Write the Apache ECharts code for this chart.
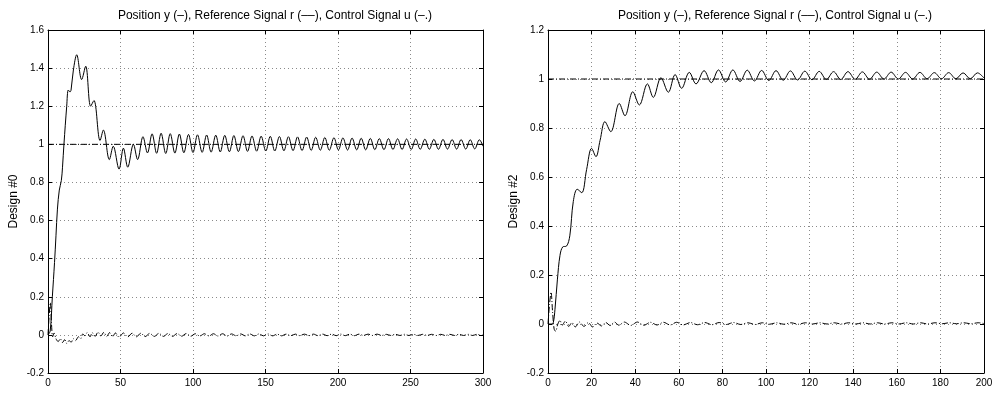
<!DOCTYPE html>
<html>
<head>
<meta charset="utf-8">
<script src="https://cdn.jsdelivr.net/npm/echarts@6/dist/echarts.min.js"></script>
<style>
html,body{margin:0;padding:0;background:#fff;}
#chart{width:998px;height:394px;}
</style>
</head>
<body>
<div id="chart"></div>
<script>
// ---------- data ----------
const titleText = 'Position y (–), Reference Signal r (––), Control Signal u (–.)';
const yLabels = ['Design #0', 'Design #2'];

const xTicks0 = [0, 50, 100, 150, 200, 250, 300];
const yTicks0 = [-0.2, 0, 0.2, 0.4, 0.6, 0.8, 1, 1.2, 1.4, 1.6];
const xTicks2 = [0, 20, 40, 60, 80, 100, 120, 140, 160, 180, 200];
const yTicks2 = [-0.2, 0, 0.2, 0.4, 0.6, 0.8, 1, 1.2];

// Design #0 : position y
const pos0 = [[0,0],[1.5,0.02],[3,0.2],[4.5,0.38],[5.5,0.52],[6.5,0.66],[7.8,0.76],[9.2,0.81],[10,0.88],[11,1.0],[12.9,1.2],[14,1.285],[15.2,1.275],[15.9,1.285],[17.5,1.39],[19.8,1.47],[23.2,1.34],[26,1.41],[29.4,1.2],[31.7,1.23],[35.9,1.02],[38.2,1.075],[42.3,0.92],[45,0.99],[49,0.87],[52,0.98],[55,0.88],[58.9,1.0],[61.8,0.92],
[65.5,1.04],[68.6,0.955],[71.8,1.055],[74.9,0.953],[78.0,1.058],[81.2,0.952],[84.3,1.056],[87.5,0.954],[90.6,1.054],[93.7,0.956],[96.9,1.052],[100.0,0.957],[103.1,1.05],[106.3,0.958],[109.4,1.049],[112.5,0.959],[115.7,1.048],[118.8,0.96],[121.9,1.047],[125.1,0.961],[128.2,1.046],[131.3,0.962],[134.5,1.045],[137.6,0.963],[140.7,1.044],[143.9,0.964],[147.0,1.043],[150.2,0.965],[153.3,1.042],[156.4,0.965],[159.6,1.041],[162.7,0.966],[165.8,1.04],[169.0,0.967],[172.1,1.039],[175.2,0.967],[178.4,1.038],[181.5,0.968],[184.6,1.037],[187.8,0.969],[190.9,1.036],[194.0,0.969],[197.2,1.035],[200.3,0.97],[203.4,1.034],[206.6,0.97],[209.7,1.033],[212.9,0.971],[216.0,1.032],[219.1,0.971],[222.3,1.031],[225.4,0.972],[228.5,1.03],[231.7,0.972],[234.8,1.03],[237.9,0.973],[241.1,1.029],[244.2,0.973],[247.3,1.028],[250.5,0.973],[253.6,1.028],[256.7,0.974],[259.9,1.027],[263.0,0.974],[266.1,1.026],[269.3,0.974],[272.4,1.026],[275.5,0.975],[278.7,1.025],[281.8,0.975],[284.9,1.025],[288.1,0.975],[291.2,1.024],[294.3,0.976],[297.5,1.024],[300,0.99]];

// Design #0 : reference r
const ref0 = [[0,1],[300,1]];

// Design #0 : control u
const ctrl0 = [[0,0],[0.8,0.1],[1.6,0.17],[2.4,0.06],[3.2,-0.01],[4.2,0.01],[5.5,-0.02],[7,-0.035],[8.5,-0.02],[10,-0.04],[11.5,-0.025],[13,-0.045],[14.5,-0.03],[16,-0.038],[17.5,-0.02],[19,-0.03],[21,-0.01],[22.5,-0.02],[24,0.005],[25.5,-0.005],[27,0.012],[29,-0.01],[30.5,0.012],[32.5,-0.008],[34.5,0.015],[36.5,-0.006],[38.5,0.014],[40.5,-0.008],[42.5,0.012],[44.5,-0.01],[46.5,0.01],[49,-0.012],[52,0.01],[55,-0.011],[58,0.009],[61,-0.01],[64,0.009],[67,-0.009],
[70.2,0.008],[73.3,-0.008],[76.5,0.008],[79.6,-0.008],[82.7,0.007],[85.9,-0.008],[89.0,0.007],[92.2,-0.007],[95.3,0.007],[98.4,-0.007],[101.6,0.006],[104.7,-0.006],[107.8,0.006],[111.0,-0.006],[114.1,0.006],[117.2,-0.006],[120.4,0.006],[123.5,-0.006],[126.6,0.005],[129.8,-0.005],[132.9,0.005],[136.1,-0.005],[139.2,0.005],[142.3,-0.005],[145.5,0.005],[148.6,-0.005],[151.7,0.005],[154.9,-0.005],[158.0,0.004],[161.1,-0.005],[164.3,0.004],[167.4,-0.004],[170.6,0.004],[173.7,-0.004],[176.8,0.004],[180.0,-0.004],[183.1,0.004],[186.2,-0.004],[189.4,0.004],[192.5,-0.004],[195.6,0.004],[198.8,-0.004],[201.9,0.004],[205.0,-0.004],[208.2,0.004],[211.3,-0.004],[214.5,0.004],[217.6,-0.003],[220.7,0.004],[223.9,-0.003],[227.0,0.004],[230.1,-0.003],[233.3,0.003],[236.4,-0.003],[239.5,0.003],[242.7,-0.003],[245.8,0.003],[248.9,-0.003],[252.1,0.003],[255.2,-0.003],[258.4,0.003],[261.5,-0.003],[264.6,0.003],[267.8,-0.003],[270.9,0.003],[274.0,-0.003],[277.2,0.003],[280.3,-0.003],[283.4,0.003],[286.6,-0.003],[289.7,0.003],[292.8,-0.003],[296.0,0.003],[299.1,-0.003],[300,0]];

// Design #2 : position y
const pos2 = [[0,0],[1.5,0.0],[2.4,0.005],[3.2,0.06],[4.3,0.18],[5.5,0.28],[6.8,0.315],[8.5,0.318],[10,0.36],[11.6,0.5],[13.4,0.55],[15.5,0.536],[17.7,0.63],[20,0.717],[22,0.683],[23.9,0.75],[26.1,0.826],[28.8,0.785],[32.7,0.9],[35.3,0.85],[38.9,0.948],[41.9,0.894],[45.6,0.98],[48.3,0.925],[51.8,1.005],[55.2,0.946],[58.3,1.018],[61.3,0.962],[64.8,1.027],[67.9,0.98],[71.6,1.034],
[74.9,0.985],[78.2,1.037],[81.5,0.988],[84.8,1.037],[88.1,0.99],[91.4,1.036],[94.7,0.992],[98.0,1.035],[101.3,0.994],[104.6,1.034],[107.9,0.995],[111.2,1.033],[114.5,0.996],[117.8,1.032],[121.1,0.997],[124.4,1.031],[127.7,0.998],[131.0,1.03],[134.3,0.998],[137.6,1.03],[140.9,0.999],[144.2,1.029],[147.5,0.999],[150.8,1.028],[154.1,1.0],[157.4,1.028],[160.7,1.0],[164.0,1.027],[167.3,1.0],[170.6,1.027],[173.9,1.001],[177.2,1.026],[180.5,1.001],[183.8,1.026],[187.1,1.001],[190.4,1.025],[193.7,1.001],[197.0,1.025],[200,1.004]];

// Design #2 : reference r
const ref2 = [[0,1],[200,1]];

// Design #2 : control u
const ctrl2 = [[0,0],[0.7,0.08],[1.4,0.13],[2.1,0.05],[2.8,-0.02],[3.5,-0.03],[4.5,0.0],[5.5,0.015],[6.5,-0.005],[8,0.012],[9.5,-0.01],[11,0.006],[12.5,-0.012],[14.5,0.008],[16.5,-0.01],[18.5,0.006],[20.5,-0.012],[22.5,0.004],[24.5,-0.008],[26.5,0.006],[28.5,-0.006],[30.5,0.008],[32.5,-0.005],[35,0.008],[38,-0.006],[41,0.008],[44,-0.005],[47,0.007],[50,-0.004],[53,0.007],[56,-0.004],[59,0.007],[62,-0.004],
[65.3,0.006],[68.6,-0.003],[71.9,0.006],[75.2,-0.003],[78.5,0.006],[81.8,-0.002],[85.1,0.006],[88.4,-0.002],[91.7,0.005],[95.0,-0.002],[98.3,0.005],[101.6,-0.001],[104.9,0.005],[108.2,-0.001],[111.5,0.005],[114.8,-0.001],[118.1,0.005],[121.4,0.0],[124.7,0.005],[128.0,0.0],[131.3,0.005],[134.6,0.0],[137.9,0.005],[141.2,0.0],[144.5,0.005],[147.8,0.0],[151.1,0.005],[154.4,0.0],[157.7,0.005],[161.0,0.0],[164.3,0.005],[167.6,0.0],[170.9,0.005],[174.2,0.0],[177.5,0.005],[180.8,0.001],[184.1,0.005],[187.4,0.001],[190.7,0.005],[194.0,0.001],[197.3,0.005],[200,0.002]];

// ---------- chart ----------
const FONT = '"Liberation Sans", Arial, Helvetica, sans-serif';
const chart = echarts.init(document.getElementById('chart'), null, {renderer: 'canvas'});

const gridBoxes = [
  {left: 48, top: 30, width: 435, height: 343},
  {left: 548, top: 30, width: 436, height: 343}
];
const xT = [xTicks0, xTicks2];
const yT = [yTicks0, yTicks2];

const black = '#000';
const gridLine = {show: true, lineStyle: {color: '#8a8a8a', width: 1, type: [1, 3]}};

const xAxes = [], yAxes = [];
for (let g = 0; g < 2; g++) {
  const xs = xT[g], ys = yT[g];
  const xMin = xs[0], xMax = xs[xs.length - 1], xInt = xs[1] - xs[0];
  const yMin = ys[0], yMax = ys[ys.length - 1], yInt = 0.2;
  xAxes.push({
    gridIndex: g, type: 'value', position: 'bottom', min: xMin, max: xMax, interval: xInt,
    axisLine: {show: true, onZero: false, lineStyle: {color: black, width: 1}},
    axisTick: {show: true, inside: true, length: 4, lineStyle: {color: black}},
    axisLabel: {show: true, margin: 5, color: black, fontSize: 10, fontFamily: FONT},
    splitLine: gridLine
  });
  xAxes.push({
    gridIndex: g, type: 'value', position: 'top', min: xMin, max: xMax, interval: xInt,
    axisLine: {show: true, onZero: false, lineStyle: {color: black, width: 1}},
    axisTick: {show: true, inside: true, length: 4, lineStyle: {color: black}},
    axisLabel: {show: false}, splitLine: {show: false}
  });
  yAxes.push({
    gridIndex: g, type: 'value', position: 'left', min: yMin, max: yMax, interval: yInt,
    name: yLabels[g], nameLocation: 'middle', nameGap: 28, nameRotate: 90,
    nameTextStyle: {color: black, fontSize: 12, fontFamily: FONT},
    axisLine: {show: true, onZero: false, lineStyle: {color: black, width: 1}},
    axisTick: {show: true, inside: true, length: 4, lineStyle: {color: black}},
    axisLabel: {show: true, margin: 4, color: black, fontSize: 10, fontFamily: FONT,
      formatter: v => String(Math.round(v * 10) / 10)},
    splitLine: gridLine
  });
  yAxes.push({
    gridIndex: g, type: 'value', position: 'right', min: yMin, max: yMax, interval: yInt,
    axisLine: {show: true, onZero: false, lineStyle: {color: black, width: 1}},
    axisTick: {show: true, inside: true, length: 4, lineStyle: {color: black}},
    axisLabel: {show: false}, splitLine: {show: false}
  });
}

function lineSeries(data, g, type, smooth) {
  return {
    type: 'line', data: data, xAxisIndex: g * 2, yAxisIndex: g * 2,
    showSymbol: false, symbol: 'none', smooth: smooth, clip: true,
    lineStyle: {color: black, width: 1, type: type}, animation: false
  };
}
const dashDot = [6, 2, 1, 2];

const option = {
  animation: false,
  backgroundColor: '#fff',
  grid: gridBoxes,
  xAxis: xAxes,
  yAxis: yAxes,
  graphic: [
    {type: 'text', x: 275, y: 16, style: {text: titleText, fill: black, font: '12px ' + FONT, textAlign: 'center', textVerticalAlign: 'middle'}},
    {type: 'text', x: 775, y: 16, style: {text: titleText, fill: black, font: '12px ' + FONT, textAlign: 'center', textVerticalAlign: 'middle'}}
  ],
  series: [
    lineSeries(ref0, 0, dashDot, false),
    lineSeries(ctrl0, 0, dashDot, 0.3),
    lineSeries(pos0, 0, 'solid', 0.35),
    lineSeries(ref2, 1, dashDot, false),
    lineSeries(ctrl2, 1, dashDot, 0.3),
    lineSeries(pos2, 1, 'solid', 0.35)
  ]
};
chart.setOption(option);
</script>
</body>
</html>
